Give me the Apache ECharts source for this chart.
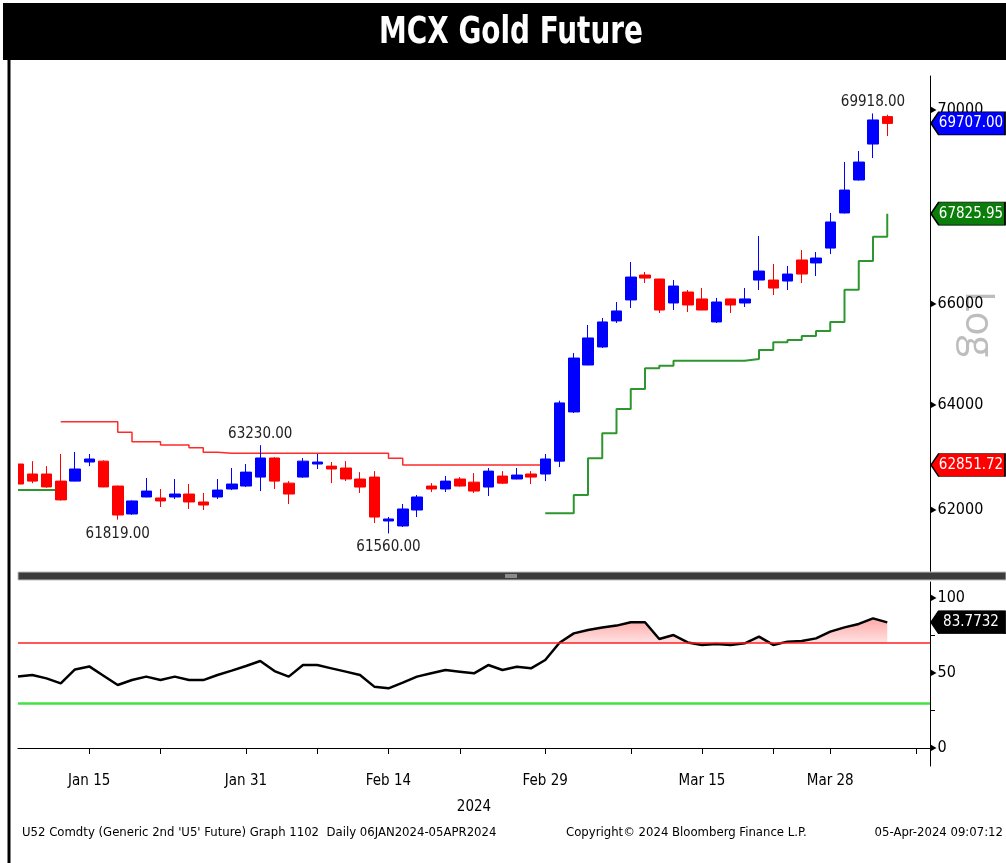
<!DOCTYPE html>
<html>
<head>
<meta charset="utf-8">
<title>MCX Gold Future</title>
<script src="https://cdn.jsdelivr.net/npm/echarts@6/dist/echarts.min.js"></script>
<style>
  html, body { margin: 0; padding: 0; background: #fff; }
  #chart { width: 1006px; height: 863px; }
</style>
</head>
<body>
<div id="chart"></div>
<script>
// daily sessions shown on the chart
const dates = [
  '2024-01-08','2024-01-09','2024-01-10','2024-01-11','2024-01-12',
  '2024-01-15','2024-01-16','2024-01-17','2024-01-18','2024-01-19',
  '2024-01-23','2024-01-24','2024-01-25','2024-01-26',
  '2024-01-29','2024-01-30','2024-01-31','2024-02-01','2024-02-02',
  '2024-02-05','2024-02-06','2024-02-07','2024-02-08','2024-02-09',
  '2024-02-12','2024-02-13','2024-02-14','2024-02-15','2024-02-16',
  '2024-02-19','2024-02-20','2024-02-21','2024-02-22','2024-02-23',
  '2024-02-26','2024-02-27','2024-02-28','2024-02-29','2024-03-01',
  '2024-03-04','2024-03-05','2024-03-06','2024-03-07','2024-03-08',
  '2024-03-11','2024-03-12','2024-03-13','2024-03-14','2024-03-15',
  '2024-03-18','2024-03-19','2024-03-20','2024-03-21','2024-03-22',
  '2024-03-25','2024-03-26','2024-03-27','2024-03-28',
  '2024-04-01','2024-04-02','2024-04-03','2024-04-04'
];
// empty sessions the axis runs on into
const axisTail = ['2024-04-05', '2024-04-08', '2024-04-09'];

const openP = [
  62870,62680,62680,62545,62545,62908,62925,62452,61925,62245,
  62226,62245,62301,62151,62245,62396,62452,62622,62985,62507,
  62622,62870,62830,62794,62585,62622,61794,61701,62000,62452,
  62396,62585,62526,62433,62641,62585,62680,62680,62925,63870,
  64785,65140,65656,66075,66576,66495,66014,66234,66095,65636,
  66095,66014,66475,66475,66455,66880,66820,67122,67840,68521,
  69272,69850
];
const closeP = [
  62490,62545,62435,62190,62775,62966,62435,61906,62170,62357,
  62170,62301,62151,62094,62376,62490,62716,62985,62545,62301,
  62925,62908,62775,62585,62433,61868,61831,62019,62245,62396,
  62545,62452,62357,62735,62507,62660,62622,62966,64045,64922,
  65318,65636,65855,66535,66515,65874,66354,65974,65874,66034,
  65974,66095,66656,66314,66596,66596,66920,67655,68313,68895,
  69779,69707
];
const lowP = [
  62450,62505,62420,62180,62540,62830,62430,61819,61910,62240,
  62056,62207,62019,62000,62207,62376,62433,62357,62396,62113,
  62610,62775,62507,62545,62321,61757,61560,61682,61868,62338,
  62338,62440,62321,62264,62490,62580,62490,62545,62812,63850,
  64780,65120,65616,65915,66415,65813,65874,65833,65870,65616,
  65813,65934,66274,66174,66274,66415,66556,67000,67830,68510,
  68979,69440
];
const highP = [
  62900,62925,62830,63061,63100,63061,62940,62460,62180,62603,
  62396,62585,62490,62321,62585,62794,62870,63230,63000,62545,
  62985,63061,62908,62925,62716,62735,61868,62113,62282,62507,
  62641,62622,62697,62794,62735,62794,62735,63061,64088,65020,
  65575,65714,66034,66840,66637,66500,66475,66274,66314,66115,
  66100,66314,67368,66800,66760,67082,67041,67840,68895,69126,
  69918,69890
];

// trailing stops: red above price in the down phase, green below in the up phase
const upperStop = [
  null,null,null,63681,63681,63681,63681,63477,63297,63297,
  63233,63233,63182,63093,63075,63075,63075,63075,63075,63075,
  63075,63075,63075,63075,63075,63075,62979,62851.72,62851.72,62851.72,
  62851.72,62851.72,62851.72,62851.72,62851.72,62851.72,62851.72,null,null,null,
  null,null,null,null,null,null,null,null,null,null,
  null,null,null,null,null,null,null,null,null,null,
  null,null
];
const lowerStop = [
  62377,62377,62377,null,null,null,null,null,null,null,
  null,null,null,null,null,null,null,null,null,null,
  null,null,null,null,null,null,null,null,null,null,
  null,null,null,null,null,null,null,61938,61938,62283,
  62979,63458,63927,64316,64720,64771,64870,64870,64870,64870,
  64870,64903,65080,65233,65279,65358,65457,65636,66280,66860,
  67353,67825.95
];

const rsi = [
  47.6,48.7,46.4,43.1,52.4,54.4,48.2,42.0,45.3,47.6,
  45.3,47.6,45.3,45.3,48.7,51.6,54.7,58.0,51.3,47.6,
  55.3,55.3,53.1,50.9,48.7,40.9,39.8,43.6,47.6,49.8,
  52.0,50.9,49.8,55.3,52.0,54.2,53.1,58.7,70.2,76.4,
  78.7,80.4,81.6,83.8,83.8,72.7,75.3,70.4,68.7,69.3,
  68.7,69.8,74.2,68.7,70.9,71.3,73.1,77.6,80.4,82.7,
  86.4,83.7732
];

const tickLabels = ['Jan 15', 'Jan 31', 'Feb 14', 'Feb 29', 'Mar 15', 'Mar 28'];
const minorTicks = ['Jan 23', 'Feb 7', 'Feb 21', 'Mar 8', 'Mar 22', 'Apr 8'];
const priceTicks = [62000, 64000, 66000, 70000];
const rsiTicks = [0, 50, 100];
const rsiMinorTicks = [25, 75];
const overbought = 70;
const oversold = 30;
const peakIdx = [17, 60];
const troughIdx = [7, 26];

const FONT = "'DejaVu Sans Condensed', 'DejaVu Sans', sans-serif";
const MONTHS = ['Jan','Feb','Mar','Apr','May','Jun','Jul','Aug','Sep','Oct','Nov','Dec'];
const fmtDate = d => {
  if (!d) return '';
  const p = d.split('-');
  return MONTHS[+p[1] - 1] + ' ' + (+p[2]);
};
const isLabelDay = (i, v) => tickLabels.indexOf(fmtDate(v)) >= 0;
const isTickDay = (i, v) => isLabelDay(i, v) || minorTicks.indexOf(fmtDate(v)) >= 0;

const xData = dates.concat(axisTail);
const last = dates.length - 1;
const axisEnd = xData.length - 1;

const candles = dates.map((d, i) => [openP[i], closeP[i], lowP[i], highP[i]]);
const obBase = rsi.map((v, i) => i >= 37 ? overbought : null);
const obFill = rsi.map((v, i) => i >= 37 ? Math.max(v - overbought, 0) : null);

// value tag sitting on the right axis
function axisTag(value, text, bg, fg) {
  return {
    coord: [axisEnd, value],
    symbol: 'path://M0,11L8,0L76,0L76,22L8,22Z',
    symbolSize: [74, 23],
    symbolKeepAspect: false,
    symbolOffset: [38, 0],
    itemStyle: { color: bg, borderColor: '#000', borderWidth: 1 },
    label: {
      show: true, position: 'inside', formatter: text, color: fg,
      fontSize: 15, fontFamily: FONT, offset: [3, 0]
    }
  };
}

function note(idx, val, below) {
  return {
    coord: [idx, val],
    symbol: 'circle', symbolSize: 1,
    itemStyle: { color: 'rgba(0,0,0,0)' },
    label: {
      show: true, position: below ? 'bottom' : 'top', distance: below ? 6 : 3,
      formatter: val.toFixed(2), color: '#222', fontSize: 15, fontFamily: FONT
    }
  };
}

const tri = v => '{t|\u25B6}' + v;
const triRich = { t: { fontSize: 8, color: '#000', padding: [0, 1, 0, 0] } };

const chart = echarts.init(document.getElementById('chart'));

chart.setOption({
  animation: false,
  backgroundColor: '#fff',
  grid: [
    { left: 18, right: 76, top: 76, height: 496, containLabel: false, outerBoundsMode: 'none' },
    { left: 18, right: 76, top: 582, height: 184, containLabel: false, outerBoundsMode: 'none' }
  ],
  xAxis: [
    {
      type: 'category', gridIndex: 0, data: xData, boundaryGap: false,
      axisLine: { show: false }, axisTick: { show: false }, axisLabel: { show: false },
      splitLine: { show: false }
    },
    {
      type: 'category', gridIndex: 1, data: xData, boundaryGap: false,
      axisLine: { show: true, lineStyle: { color: '#000', width: 1 } },
      axisTick: { show: true, interval: isTickDay, length: 6, lineStyle: { color: '#000' } },
      axisLabel: {
        interval: isLabelDay, formatter: fmtDate, color: '#000',
        fontSize: 15, fontFamily: FONT, margin: 8
      },
      splitLine: { show: false },
      name: '2024', nameLocation: 'middle', nameGap: 34,
      nameTextStyle: { color: '#000', fontSize: 15, fontFamily: FONT }
    }
  ],
  yAxis: [
    {
      type: 'log', gridIndex: 0, position: 'right', logBase: 10,
      min: 60846, max: 70715,
      axisLine: { show: true, lineStyle: { color: '#000', width: 1 } },
      axisTick: { show: false },
      splitLine: { show: false },
      axisLabel: {
        customValues: priceTicks, margin: 1, color: '#000',
        fontSize: 16, fontFamily: FONT, formatter: tri, rich: triRich
      },
      name: 'Log', nameLocation: 'middle', nameRotate: -90, nameGap: 27,
      nameMoveOverlap: false,
      nameTextStyle: { color: '#bdbdbd', fontSize: 40, fontFamily: 'Open Sans' }
    },
    {
      type: 'value', gridIndex: 1, position: 'right', min: -12, max: 110.67,
      axisLine: { show: true, lineStyle: { color: '#000', width: 1 } },
      axisTick: { show: true, customValues: rsiMinorTicks, length: 5, lineStyle: { color: '#000' } },
      splitLine: { show: false },
      axisLabel: {
        customValues: rsiTicks, margin: 1, color: '#000',
        fontSize: 16, fontFamily: FONT, formatter: tri, rich: triRich
      }
    }
  ],
  series: [
    {
      name: 'Price', type: 'candlestick', xAxisIndex: 0, yAxisIndex: 0,
      data: candles, barWidth: 11, clip: true,
      itemStyle: {
        color: '#0000ff', color0: '#ff0000',
        borderColor: '#0000ff', borderColor0: '#ff0000', borderWidth: 1
      },
      markPoint: {
        silent: true, animation: false,
        data: [
          ...peakIdx.map(i => note(i, highP[i], false)),
          ...troughIdx.map(i => note(i, lowP[i], true)),
          axisTag(closeP[last], closeP[last].toFixed(2), '#0000ff', '#fff')
        ]
      },
      z: 3
    },
    {
      name: 'Upper stop', type: 'line', xAxisIndex: 0, yAxisIndex: 0,
      data: upperStop, step: 'end', symbol: 'none',
      lineStyle: { color: '#ff2a2a', width: 1.5 },
      markPoint: {
        silent: true,
        data: [axisTag(62851.72, '62851.72', '#ff0000', '#fff')]
      },
      z: 2
    },
    {
      name: 'Lower stop', type: 'line', xAxisIndex: 0, yAxisIndex: 0,
      data: lowerStop, step: 'end', symbol: 'none',
      lineStyle: { color: '#2e962e', width: 2 },
      markPoint: {
        silent: true,
        data: [axisTag(lowerStop[last], lowerStop[last].toFixed(2), '#0a7d0a', '#fff')]
      },
      z: 2
    },
    {
      name: 'ob-base', type: 'line', xAxisIndex: 1, yAxisIndex: 1,
      data: obBase, stack: 'ob', symbol: 'none',
      lineStyle: { width: 0 }, silent: true, z: 1
    },
    {
      name: 'ob-fill', type: 'line', xAxisIndex: 1, yAxisIndex: 1,
      data: obFill, stack: 'ob', symbol: 'none',
      lineStyle: { width: 0 }, silent: true, z: 1,
      areaStyle: {
        opacity: 1,
        color: new echarts.graphic.LinearGradient(0, 0, 0, 1, [
          { offset: 0, color: '#ffa8a8' },
          { offset: 1, color: '#ffe2e2' }
        ])
      }
    },
    {
      name: 'RSI', type: 'line', xAxisIndex: 1, yAxisIndex: 1,
      data: rsi, symbol: 'none',
      lineStyle: { color: '#000', width: 2.5 },
      markLine: {
        silent: true, symbol: 'none', label: { show: false },
        data: [
          { yAxis: overbought, lineStyle: { color: '#ff2020', width: 1.5, type: 'solid' } },
          { yAxis: oversold, lineStyle: { color: '#44e044', width: 2.5, type: 'solid' } }
        ]
      },
      markPoint: {
        silent: true,
        data: [axisTag(rsi[last], String(rsi[last]), '#000', '#fff')]
      },
      z: 4
    }
  ],
  graphic: [
    { type: 'rect', shape: { x: 3, y: 3, width: 1003, height: 57 }, style: { fill: '#000' } },
    {
      type: 'text', x: 511, y: 33, scaleY: 1.2,
      style: {
        text: 'MCX Gold Future', fill: '#fff', align: 'center', verticalAlign: 'middle',
        font: "bold 31px 'DejaVu Sans Condensed', 'DejaVu Sans', sans-serif"
      }
    },
    // the plot clips the half candle at its left edge
    { type: 'rect', zlevel: 1, shape: { x: 10.5, y: 70, width: 7.5, height: 502 }, style: { fill: '#fff' } },
    { type: 'line', zlevel: 1, shape: { x1: 9, y1: 3, x2: 9, y2: 863 }, style: { stroke: '#000', lineWidth: 3 } },
    { type: 'rect', zlevel: 1, shape: { x: 18, y: 572, width: 988, height: 8 }, style: { fill: '#3c3c3c', stroke: '#c0c0c0', lineWidth: 1 } },
    { type: 'rect', zlevel: 1, z: 5, shape: { x: 505, y: 574, width: 12, height: 4 }, style: { fill: '#8a8a8a' } },
    {
      type: 'text', x: 22, y: 833,
      style: {
        text: "U52 Comdty (Generic 2nd 'U5' Future) Graph 1102  Daily 06JAN2024-05APR2024",
        fill: '#000', verticalAlign: 'middle', font: "13px 'DejaVu Sans Condensed', sans-serif"
      }
    },
    {
      type: 'text', x: 566, y: 833,
      style: {
        text: 'Copyright\u00A9 2024 Bloomberg Finance L.P.',
        fill: '#000', verticalAlign: 'middle', font: "13px 'DejaVu Sans Condensed', sans-serif"
      }
    },
    {
      type: 'text', x: 1003, y: 833,
      style: {
        text: '05-Apr-2024 09:07:12', fill: '#000', align: 'right', verticalAlign: 'middle',
        font: "13px 'DejaVu Sans Condensed', sans-serif"
      }
    }
  ]
});
</script>
</body>
</html>
